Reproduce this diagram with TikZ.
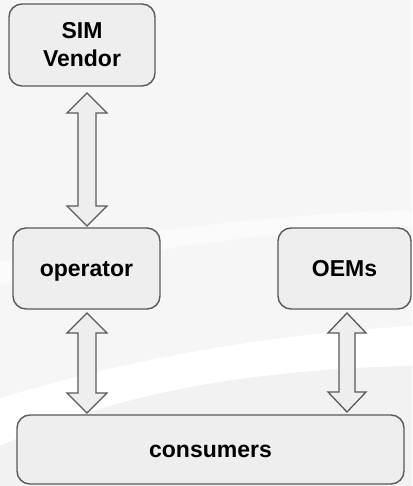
\documentclass[tikz,border=0pt]{standalone}
\usepackage{fontspec}
\setmainfont{Liberation Sans}
\usetikzlibrary{calc}
\definecolor{boxfill}{HTML}{EEEEEE}
\definecolor{boxline}{HTML}{5A5A5A}
\definecolor{bgA}{HTML}{F6F6F6}
\definecolor{bgB}{HTML}{F2F2F2}
\tikzset{
  entity/.style={draw=boxline, fill=boxfill, line width=1.4pt, rounded corners=13pt,
    inner sep=0pt, outer sep=0pt, align=center,
    font=\fontsize{23}{28}\selectfont\bfseries},
  oneline/.style={text height=16.5pt, text depth=0pt},
  barrow/.style={draw=boxline, fill=boxfill, line width=1.3pt, line join=miter}
}
\begin{document}
\begin{tikzpicture}[x=1pt,y=-1pt]
  % background
  \fill[bgA] (0,0) rectangle (412,486);
  \fill[white] (0,398) .. controls (120,362) and (250,336) .. (412,326)
     -- (412,366) .. controls (250,370) and (120,392) .. (0,446) -- cycle;
  \fill[bgB] (0,446) .. controls (120,392) and (250,370) .. (412,366)
     -- (412,486) -- (0,486) -- cycle;
  \fill[white, opacity=0.45] (0,262) .. controls (120,232) and (260,215) .. (412,210)
     -- (412,226) .. controls (260,232) and (120,250) .. (0,285) -- cycle;
  \useasboundingbox (0,0) rectangle (412,486);

  % nodes
  \node[entity, minimum width=146pt, minimum height=82pt] (sim) at (82,45) {SIM\\Vendor};
  \node[entity, oneline, minimum width=147pt, minimum height=81pt] (op) at (86.5,268.5) {operator};
  \node[entity, oneline, minimum width=133pt, minimum height=81pt] (oem) at (344.5,268.5) {OEMs};
  \node[entity, oneline, minimum width=387pt, minimum height=69pt] (cons) at (210.5,449.5) {consumers};

  % double block arrows
  \newcommand\dblarrow[4]{% x-offset, from-node anchor, to-node anchor, top gap
    \draw[barrow] let \p1=($(#2)+(#1pt,0)$), \p2=($(#3)+(#1pt,0)$) in
      (\x1,\y1-#4pt) -- (\x1+20pt,\y1-#4pt-20pt) -- (\x1+9pt,\y1-#4pt-20pt)
      -- (\x1+9pt,\y2+22pt) -- (\x1+20pt,\y2+22pt) -- (\x1,\y2+2pt)
      -- (\x1-20pt,\y2+22pt) -- (\x1-9pt,\y2+22pt) -- (\x1-9pt,\y1-#4pt-20pt)
      -- (\x1-20pt,\y1-#4pt-20pt) -- cycle;}
  \dblarrow{5}{sim.south}{op.north}{7}
  \dblarrow{0.5}{op.south}{cons.north}{4}
  \draw[barrow] let \p1=($(oem.south)+(2.5pt,0)$), \p2=(cons.north) in
      (\x1,\y1-4pt) -- (\x1+19pt,\y1-24pt) -- (\x1+8pt,\y1-24pt)
      -- (\x1+8pt,\y2+23pt) -- (\x1+19pt,\y2+23pt) -- (\x1,\y2+3pt)
      -- (\x1-19pt,\y2+23pt) -- (\x1-8pt,\y2+23pt) -- (\x1-8pt,\y1-24pt)
      -- (\x1-19pt,\y1-24pt) -- cycle;
\end{tikzpicture}
\end{document}
